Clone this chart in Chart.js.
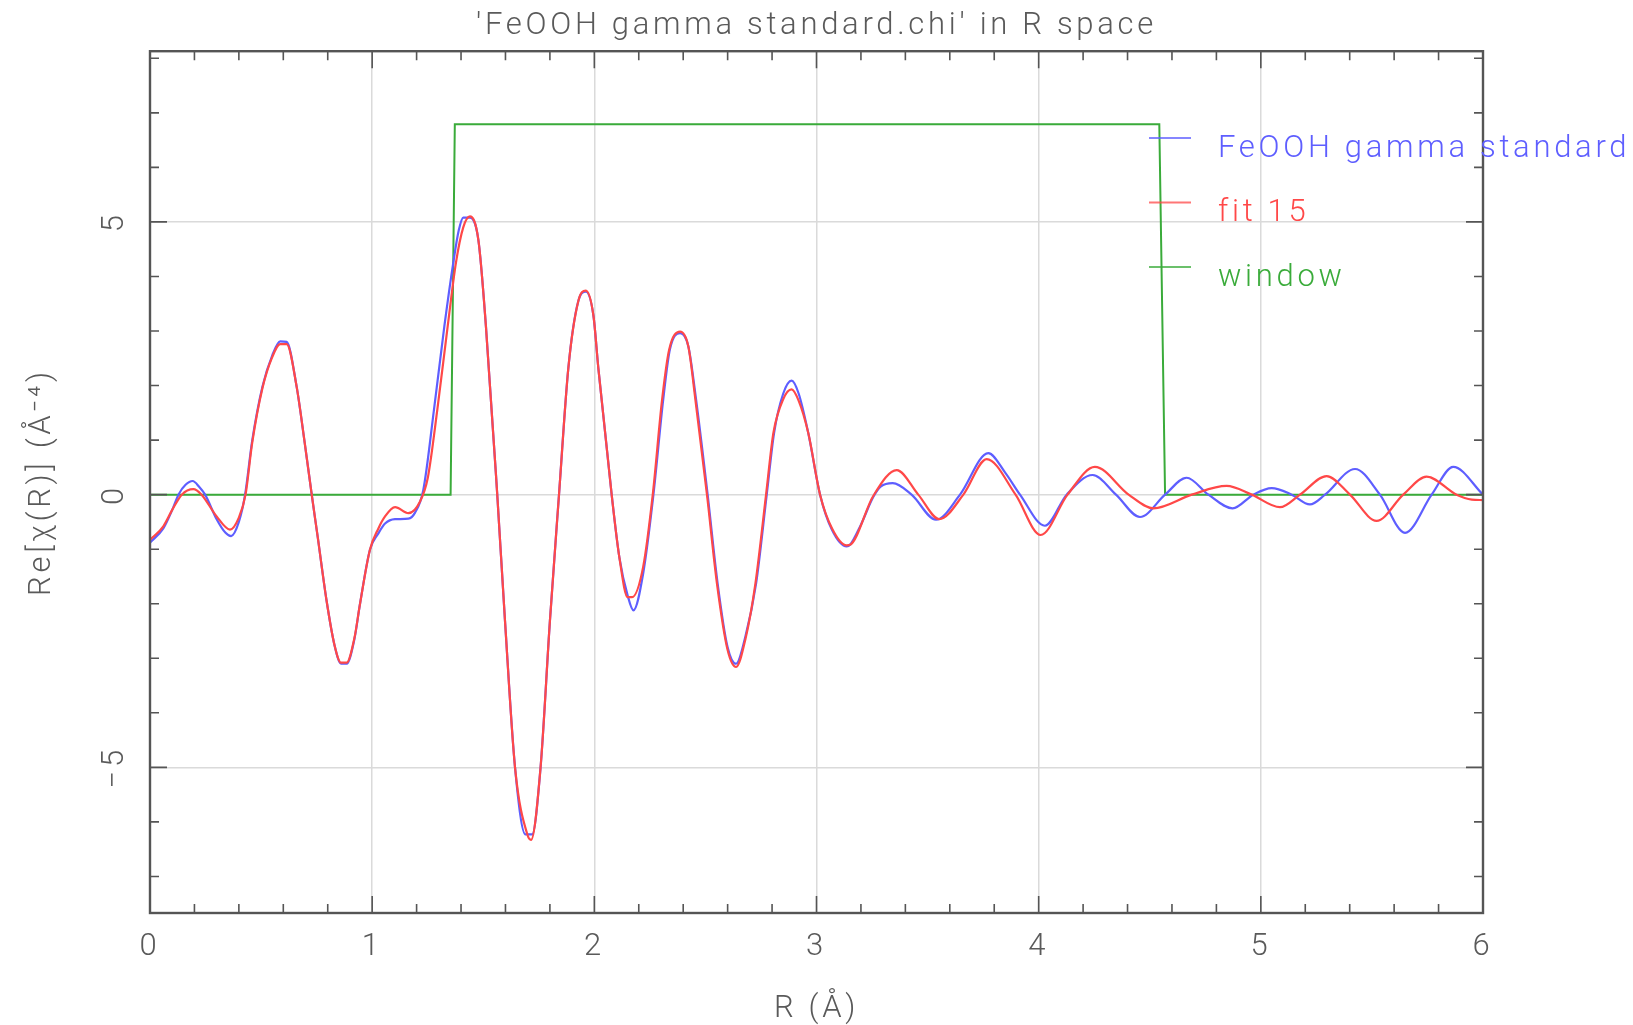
<!DOCTYPE html>
<html>
<head>
<meta charset="utf-8">
<title>FeOOH gamma standard in R space</title>
<script src="https://cdn.jsdelivr.net/npm/chart.js@4.4.1/dist/chart.umd.min.js"></script>
<style>
  html, body { margin: 0; padding: 0; background: #fff; }
  canvas { display: block; }
</style>
</head>
<body>
<canvas id="rspace" width="1633" height="1025"></canvas>
<script>
// Re[chi(R)] of the standard
let stdR = [0.000, 0.060, 0.100, 0.128, 0.160, 0.192, 0.222, 0.248, 0.300, 0.340, 0.365, 0.400, 0.428,
  0.460, 0.506, 0.550, 0.586, 0.615, 0.660, 0.695, 0.728, 0.755, 0.795, 0.830, 0.860, 0.885, 0.920,
  0.945, 0.990, 1.028, 1.058, 1.103, 1.163, 1.193, 1.230, 1.278, 1.325, 1.365, 1.390, 1.410, 1.440,
  1.478, 1.512, 1.563, 1.598, 1.643, 1.690, 1.720, 1.758, 1.800, 1.841, 1.883, 1.928, 1.962, 1.996,
  2.018, 2.078, 2.113, 2.150, 2.176, 2.220, 2.266, 2.310, 2.340, 2.386, 2.423, 2.458, 2.510, 2.555,
  2.600, 2.638, 2.680, 2.728, 2.776, 2.809, 2.850, 2.888, 2.920, 2.963, 3.016, 3.070, 3.136, 3.151,
  3.200, 3.256, 3.290, 3.343, 3.428, 3.538, 3.646, 3.773, 3.850, 3.916, 4.028, 4.126, 4.243, 4.348,
  4.456, 4.569, 4.666, 4.764, 4.873, 4.966, 5.049, 5.139, 5.221, 5.289, 5.424, 5.536, 5.649, 5.769,
  5.866, 6.000];
let stdChi = [-0.88, -0.62, -0.28, 0.00, 0.18, 0.25, 0.14, 0.00, -0.45, -0.70, -0.76, -0.50, 0.00,
  0.99, 1.98, 2.55, 2.81, 2.80, 1.98, 0.99, 0.00, -0.78, -1.95, -2.75, -3.10, -3.10, -2.65,
  -2.01, -1.01, -0.71, -0.53, -0.45, -0.44, -0.33, 0.08, 1.55, 3.09, 4.25, 4.85, 5.08, 5.08,
  4.67, 3.09, 0.00, -2.32, -5.00, -6.23, -6.23, -5.00, -2.32, 0.00, 2.32, 3.55, 3.72, 3.28,
  2.32, 0.00, -1.16, -1.85, -2.12, -1.44, 0.00, 1.74, 2.66, 2.96, 2.72, 1.74, 0.00, -1.63,
  -2.80, -3.10, -2.60, -1.63, 0.00, 1.13, 1.85, 2.09, 1.85, 1.13, 0.00, -0.65, -0.95, -0.92,
  -0.55, -0.04, 0.15, 0.21, 0.00, -0.46, 0.00, 0.76, 0.40, 0.00, -0.57, 0.00, 0.36, 0.00,
  -0.41, 0.00, 0.31, 0.00, -0.25, 0.00, 0.12, 0.00, -0.18, 0.00, 0.47, 0.00, -0.70, 0.00,
  0.51, 0.00];

// fit 15
let fitR = [0.000, 0.060, 0.100, 0.143, 0.195, 0.232, 0.300, 0.360, 0.400, 0.430, 0.460, 0.506, 0.550,
  0.586, 0.615, 0.660, 0.695, 0.728, 0.755, 0.795, 0.830, 0.860, 0.885, 0.920, 0.945, 0.990, 1.028,
  1.058, 1.103, 1.163, 1.215, 1.250, 1.293, 1.340, 1.377, 1.410, 1.440, 1.478, 1.512, 1.563, 1.598,
  1.643, 1.700, 1.715, 1.758, 1.800, 1.841, 1.883, 1.928, 1.962, 1.996, 2.018, 2.078, 2.113, 2.150,
  2.170, 2.220, 2.263, 2.305, 2.337, 2.386, 2.423, 2.455, 2.507, 2.552, 2.600, 2.638, 2.680, 2.725,
  2.773, 2.806, 2.850, 2.888, 2.920, 2.963, 3.016, 3.070, 3.136, 3.151, 3.256, 3.361, 3.458, 3.553,
  3.661, 3.766, 3.896, 4.009, 4.130, 4.253, 4.405, 4.516, 4.689, 4.846, 4.959, 5.086, 5.176, 5.296,
  5.401, 5.521, 5.641, 5.746, 5.881, 5.950, 6.000];
let fitChi = [-0.83, -0.58, -0.28, 0.00, 0.10, 0.00, -0.40, -0.64, -0.42, 0.00, 0.95, 1.95, 2.52,
  2.76, 2.76, 1.98, 0.99, 0.00, -0.78, -1.95, -2.75, -3.08, -3.08, -2.63, -2.01, -1.01, -0.62,
  -0.40, -0.23, -0.34, -0.13, 0.30, 1.55, 3.09, 4.25, 4.90, 5.10, 4.67, 3.09, 0.00, -2.32,
  -5.00, -6.25, -6.33, -5.00, -2.32, 0.00, 2.32, 3.55, 3.74, 3.28, 2.32, 0.00, -1.16, -1.88,
  -1.88, -1.32, 0.00, 1.74, 2.66, 2.99, 2.72, 1.74, 0.00, -1.63, -2.85, -3.16, -2.65, -1.63,
  0.00, 1.13, 1.75, 1.93, 1.72, 1.13, 0.00, -0.62, -0.93, -0.92, -0.02, 0.45, 0.00, -0.45,
  0.00, 0.65, 0.00, -0.74, 0.00, 0.51, 0.00, -0.25, 0.00, 0.16, 0.00, -0.23, 0.00, 0.34,
  0.00, -0.48, 0.00, 0.33, 0.00, -0.09, -0.10];

// FT window
let winR = [0, 1.353, 1.372, 4.543, 4.569, 6];
let winVal = [0, 0, 6.79, 6.79, 0, 0];

let seriesNames = ['FeOOH gamma standard', 'fit 15', 'window'];
let seriesColors = ['#5e5eff', '#ff4848', '#3aab3a'];

let rMin = 0, rMax = 6;
let chiMin = -7.67, chiMax = 8.13;

const FONT = 'Roboto, "DejaVu Sans", sans-serif';
const TEXT_GREY = '#5a5a5a';
const SPACING = '3.7px';

function pts(xs, ys) {
  return xs.map((x, i) => ({x: x, y: ys[i]}));
}

// inward tick marks plus the box round the plot
var frameTicks = {
  id: 'frameTicks',
  afterDatasetsDraw(chart) {
    const {ctx, chartArea: a, scales: {x, y}} = chart;
    ctx.save();
    ctx.strokeStyle = '#555';
    ctx.lineWidth = 1.6;
    ctx.beginPath();
    for (let i = 0; i <= 30; i++) {
      const px = x.getPixelForValue(i * 0.2);
      const len = i % 5 === 0 ? 17 : 9;
      ctx.moveTo(px, a.bottom); ctx.lineTo(px, a.bottom - len);
      ctx.moveTo(px, a.top); ctx.lineTo(px, a.top + len);
    }
    for (let v = Math.ceil(y.min); v <= y.max; v++) {
      const py = y.getPixelForValue(v);
      const len = v % 5 === 0 ? 17 : 9;
      ctx.moveTo(a.left, py); ctx.lineTo(a.left + len, py);
      ctx.moveTo(a.right, py); ctx.lineTo(a.right - len, py);
    }
    ctx.stroke();
    ctx.lineWidth = 2.4;
    ctx.strokeRect(a.left, a.top, a.right - a.left, a.bottom - a.top);
    ctx.restore();
  }
};

// key in the upper right, text allowed to run past the frame
var sideKey = {
  id: 'sideKey',
  afterDraw(chart) {
    const ctx = chart.ctx;
    ctx.save();
    ctx.font = '300 31px ' + FONT;
    ctx.textBaseline = 'middle';
    ctx.letterSpacing = SPACING;
    chart.data.datasets.forEach((ds, i) => {
      const yy = 138 + i * 64.5;
      ctx.strokeStyle = ds.borderColor;
      ctx.globalAlpha = 0.75;
      ctx.lineWidth = 2;
      ctx.beginPath();
      ctx.moveTo(1149, yy); ctx.lineTo(1191, yy);
      ctx.stroke();
      ctx.globalAlpha = 1;
      ctx.fillStyle = ds.borderColor;
      ctx.fillText(ds.label, 1218, yy + 11);
    });
    ctx.restore();
  }
};

var spacing = {
  id: 'spacing',
  beforeDraw(chart) { chart.ctx.letterSpacing = SPACING; }
};

var ctx = document.getElementById('rspace').getContext('2d');

var data = {
  datasets: [
    {
      label: seriesNames[0],
      data: pts(stdR, stdChi),
      borderColor: seriesColors[0],
      borderWidth: 2.2,
      cubicInterpolationMode: 'monotone',
      pointRadius: 0,
      order: 2
    },
    {
      label: seriesNames[1],
      data: pts(fitR, fitChi),
      borderColor: seriesColors[1],
      borderWidth: 2.2,
      cubicInterpolationMode: 'monotone',
      pointRadius: 0,
      order: 1
    },
    {
      label: seriesNames[2],
      data: pts(winR, winVal),
      borderColor: seriesColors[2],
      borderWidth: 2,
      tension: 0,
      pointRadius: 0,
      order: 3
    }
  ]
};

var options = {
  responsive: false,
  animation: false,
  devicePixelRatio: 1,
  layout: { padding: { left: 0, right: 150, top: 0, bottom: 0 } },
  plugins: {
    legend: { display: false },
    tooltip: { enabled: false },
    title: {
      display: true,
      fullSize: false,
      text: "'FeOOH gamma standard.chi' in R space",
      color: TEXT_GREY,
      font: { family: FONT, size: 31, weight: 300, lineHeight: 1.2 },
      padding: { top: 8, bottom: 6 }
    }
  },
  scales: {
    x: {
      type: 'linear',
      min: rMin,
      max: rMax,
      afterFit(scale) { scale.height = 112; },
      grid: { color: '#dadada', lineWidth: 1.5, drawTicks: false },
      border: { display: false },
      ticks: {
        stepSize: 1,
        includeBounds: false,
        padding: 16,
        color: TEXT_GREY,
        font: { family: FONT, size: 31, weight: 300 }
      },
      title: {
        display: true,
        text: 'R (Å)',
        color: TEXT_GREY,
        font: { family: FONT, size: 31, weight: 300, lineHeight: 1 },
        padding: { top: 0, bottom: 0 }
      }
    },
    y: {
      type: 'linear',
      min: chiMin,
      max: chiMax,
      afterFit(scale) { scale.width = 150; },
      grid: { color: '#dadada', lineWidth: 1.5, drawTicks: false },
      border: { display: false },
      ticks: {
        stepSize: 5,
        includeBounds: false,
        minRotation: 90,
        maxRotation: 90,
        crossAlign: 'center',
        padding: 17,
        color: TEXT_GREY,
        font: { family: FONT, size: 31, weight: 300 },
        callback: (v) => String(v).replace('-', '\u2212')
      },
      title: {
        display: true,
        text: 'Re[χ(R)] (Å⁻⁴)',
        color: TEXT_GREY,
        font: { family: FONT, size: 31, weight: 300, lineHeight: 1.2 },
        padding: { top: 24, bottom: 0 }
      }
    }
  }
};

var rChart = new Chart(ctx, {
  type: 'line',
  data: data,
  options: options,
  plugins: [spacing, frameTicks, sideKey]
});
</script>
</body>
</html>
